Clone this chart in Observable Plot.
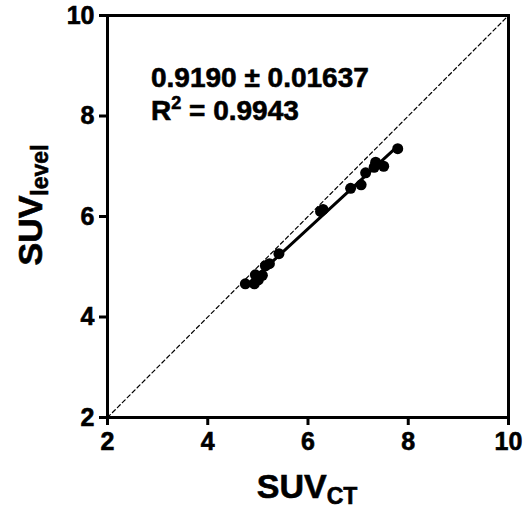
<!DOCTYPE html>
<html>
<head>
<meta charset="utf-8">
<script src="https://cdn.jsdelivr.net/npm/d3@7"></script>
<script src="https://cdn.jsdelivr.net/npm/@observablehq/plot@0.6"></script>
<style>
  html, body { margin: 0; padding: 0; background: #fff; }
</style>
</head>
<body>
<div id="chart"></div>
<script>
// Data
const suvCT    = [4.75, 4.93, 4.95, 5.01, 5.09, 5.15, 5.23, 5.42, 6.25, 6.30, 6.85, 7.06, 7.15, 7.32, 7.35, 7.51, 7.79];
const suvLevel = [4.66, 4.66, 4.84, 4.74, 4.83, 5.02, 5.06, 5.26, 6.10, 6.14, 6.56, 6.63, 6.87, 6.98, 7.08, 7.00, 7.35];
const identity = [2, 10];
const ticks = [2, 4, 6, 8, 10];
const slopeText = "0.9190 ± 0.01637";
const r2Text = ["R", "2", " = 0.9943"];
const xLabel = ["SUV", "CT"];
const yLabel = ["SUV", "level"];

const points = suvCT.map((x, i) => ({x, y: suvLevel[i]}));
const diag = identity.map(v => ({x: v, y: v}));
const FONT = "'Liberation Sans', Arial, sans-serif";

const plot = Plot.plot({
  width: 528,
  height: 511,
  marginLeft: 107,
  marginRight: 20,
  marginTop: 15,
  marginBottom: 94,
  style: {fontFamily: FONT, background: "#fff", color: "black"},
  x: {domain: [2, 10], ticks: ticks},
  y: {domain: [2, 10], ticks: ticks},
  marks: [
    Plot.line(diag, {x: "x", y: "y", stroke: "black", strokeWidth: 1.2, strokeDasharray: "4,3"}),
    Plot.linearRegressionY(points, {x: "x", y: "y", ci: 0, stroke: "black", strokeWidth: 3}),
    Plot.dot(points, {x: "x", y: "y", r: 5.5, fill: "black", stroke: null}),
    Plot.frame({stroke: "black", strokeWidth: 3}),
    Plot.axisX({ticks: ticks, tickSize: 8, tickPadding: 7, strokeWidth: 3, fontSize: 25, fontWeight: "bold", fill: "black", label: null}),
    Plot.axisY({ticks: ticks, tickSize: 8, tickPadding: 5, strokeWidth: 3, fontSize: 25, fontWeight: "bold", fill: "black", label: null})
  ]
});

const svg = d3.select(plot);

// tick labels (only texts present so far)
svg.selectAll("text")
  .style("font-family", FONT).style("font-size", "25px")
  .style("font-weight", "700").style("fill", "black")
  .style("stroke", "black").style("stroke-width", "0.6px");

function label(sel) {
  return sel.style("font-family", FONT)
    .style("font-weight", "700").attr("fill", "black")
    .style("stroke", "black").style("stroke-width", "0.6px");
}

// annotation
label(svg.append("text"))
  .attr("x", 151).attr("y", 87).attr("text-anchor", "start")
  .attr("font-size", 28)
  .text(slopeText);
const r2 = label(svg.append("text"))
  .attr("x", 151).attr("y", 120).attr("text-anchor", "start")
  .attr("font-size", 28);
r2.append("tspan").text(r2Text[0]);
r2.append("tspan").attr("font-size", 18).attr("dy", -11).text(r2Text[1]);
r2.append("tspan").attr("dy", 11).text(r2Text[2]);

const xl = label(svg.append("text"))
  .attr("x", 307).attr("y", 498)
  .attr("text-anchor", "middle")
  .attr("font-size", 34);
xl.append("tspan").text(xLabel[0]);
xl.append("tspan").attr("font-size", 23).attr("dy", 6).text(xLabel[1]);

const yl = label(svg.append("text"))
  .attr("transform", "translate(42,205) rotate(-90)")
  .attr("text-anchor", "middle")
  .attr("font-size", 34);
yl.append("tspan").text(yLabel[0]);
yl.append("tspan").attr("font-size", 23).attr("dy", 6).text(yLabel[1]);

document.getElementById("chart").appendChild(plot);
</script>
</body>
</html>
